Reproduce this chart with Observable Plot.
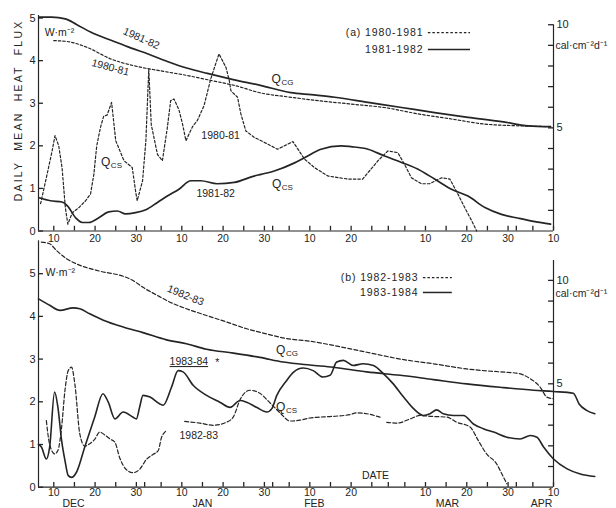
<!DOCTYPE html>
<html><head><meta charset="utf-8">
<script src="https://cdn.jsdelivr.net/npm/d3@7"></script>
<script src="https://cdn.jsdelivr.net/npm/@observablehq/plot@0.6"></script>
<style>
body{margin:0;background:#fff;}
#wrap{position:relative;width:616px;height:508px;overflow:hidden;background:#fff;}
#wrap svg{position:absolute;left:0;}
</style></head><body><div id="wrap"></div>
<script>
// ---------- calendar (day index: Dec d = d, Jan d = 31+d, Feb d = 62+d, Mar d = 90+d, Apr d = 121+d)
const months = ["DEC", "JAN", "FEB", "MAR", "APR"];
const monthOffset = [0, 31, 62, 90, 121];
const monthLength = [31, 31, 28, 31, 30];
const tickDaysOfMonth = [1, 5, 10, 15, 20, 25, 30];
const labelDaysOfMonth = [10, 20, 30];
const monthLabelDay = [14.8, 46, 73.1, 105.3, 128.1];
const yTicks = [0, 1, 2, 3, 4, 5];
const calTicks = [1, 2, 3, 4, 5, 6, 7, 8, 9, 10];
const calLabels = [5, 10];

// ---------- (a) 1980-81 / 1981-82
const qcgA8182Day = [6.4, 9.5, 12.8, 15.5, 18.9, 24.6, 28.6, 33, 37.5, 42.4, 47.2, 53.7, 60, 67.4, 72.3, 78, 86.1, 94.2, 102.2, 110.3, 118.4, 124.9, 130.3];
const qcgA8182Val = [5.02, 5.02, 4.98, 4.85, 4.67, 4.45, 4.3, 4.15, 3.98, 3.82, 3.7, 3.55, 3.42, 3.25, 3.2, 3.14, 3.02, 2.9, 2.78, 2.67, 2.57, 2.47, 2.45];

const qcgA8081Day = [10, 13.2, 18.1, 23.8, 29.4, 35.9, 42.4, 48.8, 53.7, 60.2, 66.6, 72.3, 82, 90, 98.2, 106.3, 114.4, 122.5, 130.3];
const qcgA8081Val = [4.47, 4.45, 4.31, 4.04, 3.88, 3.76, 3.65, 3.52, 3.42, 3.24, 3.15, 3.08, 2.98, 2.9, 2.75, 2.63, 2.51, 2.47, 2.45];

const qcsA8081Day = [6.8, 8.4, 9.6, 10.3, 11.2, 12, 12.8, 13.4, 14.5, 16.1, 17.7, 18.9, 19.7, 20.4, 21.3, 22.1, 22.9, 24, 25, 27, 29, 29.8, 30.2, 31.5, 32.3, 33, 33.6, 35.1, 36.3, 37.5, 38.3, 39.1, 40.3, 41.2, 42, 43.6, 44.8, 46.4, 48, 50, 51.7, 52.5, 52.9, 54.5, 55.3, 56.5, 58.5, 60.2, 64.2, 67.9, 70.7, 73.1, 76.4, 81.2, 84.8, 88.5, 90.9, 93.3, 94.9, 96.6, 99, 101, 103.9, 105.9, 107.9, 109.5, 111.2, 112.4];
const qcsA8081Val = [0.64, 1.34, 1.88, 2.24, 2.0, 1.49, 0.55, 0.16, 0.43, 0.55, 0.71, 0.87, 1.33, 2.0, 2.43, 2.7, 2.72, 3.02, 2.12, 1.65, 1.49, 0.94, 0.71, 1.18, 2.12, 3.8, 2.5, 1.8, 1.65, 2.43, 3.06, 3.1, 2.85, 2.5, 2.12, 2.45, 2.6, 2.95, 3.57, 4.16, 3.84, 3.53, 3.29, 3.14, 2.75, 2.35, 2.2, 2.12, 1.92, 2.1, 1.69, 1.49, 1.29, 1.22, 1.22, 1.65, 1.88, 1.84, 1.57, 1.25, 1.11, 1.11, 1.25, 1.22, 0.86, 0.55, 0.24, 0];

const qcsA8182Day = [6.4, 9.2, 12, 13.3, 15.3, 16.9, 18.5, 20.9, 23.3, 25.4, 27.4, 29.8, 32.3, 35.1, 37.5, 40.3, 43.2, 45.6, 49.6, 53.7, 58.5, 60.2, 63.4, 68.3, 70.7, 74.7, 79.6, 82, 86.1, 90.1, 94.2, 98.2, 102.2, 106.3, 110.3, 114.4, 118.4, 122.5, 126.5, 130.3];
const qcsA8182Val = [0.78, 0.71, 0.68, 0.59, 0.31, 0.2, 0.2, 0.31, 0.45, 0.47, 0.4, 0.43, 0.5, 0.67, 0.82, 0.98, 1.18, 1.18, 1.11, 1.14, 1.29, 1.33, 1.41, 1.6, 1.72, 1.92, 2.0, 1.98, 1.92, 1.76, 1.61, 1.45, 1.22, 0.98, 0.82, 0.55, 0.39, 0.3, 0.22, 0.16];

// ---------- (b) 1982-83 / 1983-84
const qcgB8283Day = [7.0, 9, 10.7, 13.1, 15.5, 21.1, 26.8, 29.2, 31.6, 34.9, 38.9, 42.1, 47, 51.8, 56.7, 61.5, 66.4, 72, 77.7, 85.8, 93.9, 101.9, 110, 118.1, 122.1, 125.4, 127.8, 129.4, 131];
const qcgB8283Val = [5.74, 5.7, 5.54, 5.35, 5.23, 5.06, 4.94, 4.84, 4.68, 4.5, 4.3, 4.18, 4.02, 3.87, 3.71, 3.59, 3.48, 3.42, 3.32, 3.16, 3.0, 2.89, 2.77, 2.7, 2.67, 2.54, 2.34, 2.11, 2.07];

const qcgB8384Day = [6.3, 9, 11.5, 14.7, 16.3, 18.7, 22, 26.8, 31.6, 37.3, 42.1, 47, 53.5, 59.9, 65.6, 72, 77.7, 85.8, 93.9, 101.9, 110, 118.1, 126.2, 131, 135.8, 137.2, 139, 141];
const qcgB8384Val = [4.41, 4.26, 4.14, 4.2, 4.18, 4.06, 3.91, 3.75, 3.62, 3.45, 3.36, 3.23, 3.14, 3.04, 2.93, 2.86, 2.81, 2.7, 2.62, 2.52, 2.42, 2.34, 2.27, 2.24, 2.2, 1.95, 1.8, 1.72];

const qcsB8384Day = [6.3, 7.0, 8.2, 9.0, 10.2, 11.0, 11.9, 12.7, 13.5, 14.3, 15.5, 17.5, 19.9, 21.9, 23.2, 24.8, 26.8, 29.2, 30.0, 30.8, 31.6, 33.3, 35.7, 36.5, 38.5, 40.1, 41.3, 43.8, 47, 50.2, 52.7, 55.1, 56.7, 59.1, 61.6, 62.8, 64, 66.4, 68, 70.4, 72.8, 75.2, 76.9, 78.5, 80.1, 82.5, 84.9, 87.4, 89.8, 92.2, 94.7, 97.1, 99.5, 101.1, 102.7, 104.3, 106.8, 109.2, 111.6, 114, 116.5, 119.7, 122.9, 125.4, 127, 128.6, 131, 134.3, 137.5, 141];
const qcsB8384Val = [1.0, 0.94, 0.66, 0.94, 2.23, 1.87, 1.09, 0.63, 0.27, 0.23, 0.35, 0.94, 1.64, 2.19, 1.99, 1.6, 1.76, 1.64, 1.6, 1.88, 2.15, 2.11, 1.95, 1.92, 2.34, 2.73, 2.7, 2.38, 2.15, 1.99, 1.87, 2.03, 1.99, 1.87, 1.76, 1.84, 2.15, 2.5, 2.69, 2.79, 2.73, 2.58, 2.62, 2.93, 2.97, 2.85, 2.89, 2.85, 2.66, 2.42, 2.11, 1.84, 1.68, 1.72, 1.81, 1.72, 1.68, 1.68, 1.48, 1.37, 1.29, 1.17, 1.13, 1.21, 1.17, 0.94, 0.66, 0.43, 0.31, 0.25];

// null = break in the record
const qcsB8283Day = [8.2, 9.0, 10.2, 11.0, 11.9, 12.7, 13.5, 14.3, 15.1, 16.3, 17.5, 18.7, 19.9, 21.1, 22.4, 23.6, 24.8, 26, 27.6, 29.2, 30.8, 32.5, 34.1, 35.3, 36.1, 36.9, 37.3, null, 41.7, 45.4, 48.6, 51.8, 53.5, 55.1, 57.5, 59.9, 62.3, 64.8, 67.2, 69.6, 72, 77.7, 81.7, 83.3, 85.8, 89, null, 90.6, 93.1, 96.3, 98.7, 101.1, 105.2, 107.6, 110.8, 112.8, 114.8, 117.2, 118.5, 119.7];
const qcsB8283Val = [1.56, 1.0, 0.78, 0.86, 1.41, 2.26, 2.73, 2.81, 2.42, 1.25, 0.96, 1.02, 1.12, 1.29, 1.22, 1.13, 1.05, 0.68, 0.41, 0.34, 0.42, 0.66, 0.77, 0.86, 1.17, 1.29, 1.33, null, 1.54, 1.5, 1.45, 1.52, 1.65, 2.05, 2.27, 2.2, 1.98, 1.74, 1.55, 1.57, 1.62, 1.66, 1.7, 1.74, 1.72, 1.64, null, 1.52, 1.5, 1.6, 1.68, 1.66, 1.64, 1.52, 1.41, 1.09, 0.78, 0.55, 0.31, 0.08];

// ---------- annotations (data coordinates)
const topStartLabels = [{t: "W·m⁻²", day: 7.3, v: 4.66}, {t: "cal·cm⁻²d⁻¹", day: 131, v: 4.35}];
const topMidLabels = [{t: "1981-82", day: 31.2, v: 4.52, r: 24}, {t: "1980-81", day: 23.7, v: 3.84, r: 15}, {t: "1980-81", day: 50.4, v: 2.24, r: 0}, {t: "1981-82", day: 49.2, v: 0.88, r: 0}];
const topLegend = [{t: "(a) 1980-1981", day: 99.5, x1: 100.7, x2: 110.9, v: 4.66, dash: true}, {t: "1981-1982", day: 99.5, x1: 100.7, x2: 110.9, v: 4.26, dash: false}];
const topQ = [{sub: "CG", day: 65.0, v: 3.56}, {sub: "CS", day: 23.7, v: 1.62}, {sub: "CS", day: 65.1, v: 1.1}];
const yTitle = [{t: "DAILY  MEAN  HEAT  FLUX", day: 1.5, v: 2.83}];

const botStartLabels = [{t: "W·m⁻²", day: 7.5, v: 5.02}, {t: "cal·cm⁻²d⁻¹", day: 131, v: 4.53}];
const botMidLabels = [{t: "1982-83", day: 41.9, v: 4.49, r: 22}, {t: "1983-84", day: 42.7, v: 2.94, r: 0}, {t: "*", day: 49.6, v: 2.92, r: 0}, {t: "1982-83", day: 45.1, v: 1.21, r: 0}, {t: "DATE", day: 87.9, v: 0.27, r: 0}];
const botLegend = [{t: "(b) 1982-1983", day: 98.3, x1: 99.5, x2: 106.5, v: 4.91, dash: true}, {t: "1983-1984", day: 98.3, x1: 99.5, x2: 106.5, v: 4.56, dash: false}];
const botQ = [{sub: "CG", day: 66.1, v: 3.22}, {sub: "CS", day: 66.1, v: 1.87}];

// ---------- constants
const CAL = 0.4843;             // 1 cal cm-2 d-1 in W m-2
const DAY0 = 6.3, DAY1 = 131;
const TICK_DAYS = 1.2;          // tick length along x, in days (~5 px)
const TICK_W = 0.11;            // tick length along y, in W m-2 (~5 px)
const INK = "#242424";
const FONT = "'Liberation Sans', Arial, sans-serif";

const series = (days, vals) => days.map((d, i) => ({day: d, v: vals[i]}));
const tickDays = [];
months.forEach((m, k) => tickDaysOfMonth.forEach(d => {
  const x = monthOffset[k] + d;
  if (d <= monthLength[k] && x >= DAY0 && x <= DAY1) tickDays.push(x);
}));
const labelMap = new Map();
months.forEach((m, k) => labelDaysOfMonth.forEach(d => {
  const x = monthOffset[k] + d;
  if (d <= monthLength[k] && x >= DAY0 && x <= DAY1) labelMap.set(x, String(d));
}));
const labelDays = [...labelMap.keys()];
const calW = calTicks.map(c => c * CAL);
const calFormat = d => { const c = Math.round(d / CAL); return calLabels.includes(c) ? String(c) : ""; };

function axes(rightTop, xPad) {
  return [
    Plot.ruleY([0], {stroke: INK, strokeWidth: 1.2}),
    Plot.ruleX([DAY0], {stroke: INK, strokeWidth: 1.2}),
    Plot.ruleX([DAY1], {y1: 0, y2: rightTop, stroke: INK, strokeWidth: 1.2}),
    // inward tick marks
    Plot.ruleY(yTicks.map(v => ({v})), {y: "v", x1: () => DAY0, x2: () => DAY0 + TICK_DAYS, stroke: INK, strokeWidth: 1.3}),
    Plot.ruleY(calW.map(v => ({v})), {y: "v", x1: () => DAY1 - TICK_DAYS, x2: () => DAY1, stroke: INK, strokeWidth: 1.3}),
    Plot.ruleX(tickDays.map(day => ({day})), {x: "day", y1: () => 0, y2: () => TICK_W, stroke: INK, strokeWidth: 1.3}),
    // tick labels
    Plot.axisY({anchor: "left", ticks: yTicks, tickSize: 0, tickPadding: 3, tickFormat: d => String(d), label: null, fontSize: 11}),
    Plot.axisY({anchor: "right", ticks: calW, tickSize: 0, tickPadding: 3, tickFormat: calFormat, label: null, fontSize: 11}),
    Plot.axisX({anchor: "bottom", ticks: labelDays, tickSize: 0, tickPadding: xPad, tickFormat: d => labelMap.get(d), label: null, fontSize: 10.5})
  ];
}

function qLabels(arr) {
  return [
    Plot.text(arr, {x: "day", y: "v", text: () => "Q", textAnchor: "end", fontSize: 12, fill: INK}),
    Plot.text(arr, {x: "day", y: "v", text: "sub", textAnchor: "start", fontSize: 8, dy: 3.5, dx: 0.5, fill: INK})
  ];
}

function legend(arr) {
  return [
    Plot.text(arr, {x: "day", y: "v", text: "t", textAnchor: "end", fontSize: 10.5, fill: INK}),
    Plot.ruleY(arr.filter(d => d.dash), {y: "v", x1: "x1", x2: "x2", stroke: INK, strokeWidth: 1.2, strokeDasharray: "2.5,2"}),
    Plot.ruleY(arr.filter(d => !d.dash), {y: "v", x1: "x1", x2: "x2", stroke: INK, strokeWidth: 1.5})
  ];
}

const baseStyle = {background: "transparent", fontFamily: FONT, fontSize: "10px", color: INK};

// ---------- panel (a)
const panelA = Plot.plot({
  width: 616, height: 250, marginLeft: 38, marginRight: 63, marginTop: 15, marginBottom: 19.5,
  x: {domain: [DAY0, DAY1], label: null},
  y: {domain: [0, 5.06], label: null},
  style: baseStyle,
  marks: [
    ...axes(10 * CAL, 3.5),
    Plot.line(series(qcgA8182Day, qcgA8182Val), {x: "day", y: "v", stroke: INK, strokeWidth: 1.7, curve: "monotone-x"}),
    Plot.line(series(qcgA8081Day, qcgA8081Val), {x: "day", y: "v", stroke: INK, strokeWidth: 1.2, strokeDasharray: "2.5,2", curve: "monotone-x"}),
    Plot.line(series(qcsA8081Day, qcsA8081Val), {x: "day", y: "v", stroke: INK, strokeWidth: 1.2, strokeDasharray: "2.5,2", curve: "linear"}),
    Plot.line(series(qcsA8182Day, qcsA8182Val), {x: "day", y: "v", stroke: INK, strokeWidth: 1.7, curve: "monotone-x"}),
    Plot.text(topStartLabels, {x: "day", y: "v", text: "t", textAnchor: "start", fontSize: 10.5, dx: 2, fill: INK}),
    Plot.text(topMidLabels, {x: "day", y: "v", text: "t", rotate: "r", fontSize: 10.5, fill: INK}),
    Plot.text(yTitle, {x: "day", y: "v", text: "t", rotate: -90, fontSize: 10.5, fill: INK}),
    ...qLabels(topQ),
    ...legend(topLegend)
  ]
});
panelA.style.top = "0px";

// ---------- panel (b)
const panelB = Plot.plot({
  width: 616, height: 270, marginLeft: 38, marginRight: 63, marginTop: 2.3, marginBottom: 21.3,
  x: {domain: [DAY0, DAY1], label: null},
  y: {domain: [0, 5.77], label: null},
  style: baseStyle,
  marks: [
    ...axes(5.31, 1.7),
    Plot.line(series(qcgB8283Day, qcgB8283Val), {x: "day", y: "v", stroke: INK, strokeWidth: 1.2, strokeDasharray: "4,2.2", curve: "monotone-x"}),
    Plot.line(series(qcgB8384Day, qcgB8384Val), {x: "day", y: "v", stroke: INK, strokeWidth: 1.6, curve: "monotone-x"}),
    Plot.line(series(qcsB8283Day, qcsB8283Val), {x: "day", y: "v", stroke: INK, strokeWidth: 1.2, strokeDasharray: "4,2.2", curve: "monotone-x"}),
    Plot.line(series(qcsB8384Day, qcsB8384Val), {x: "day", y: "v", stroke: INK, strokeWidth: 1.6, curve: "monotone-x"}),
    Plot.text(botStartLabels, {x: "day", y: "v", text: "t", textAnchor: "start", fontSize: 10.5, dx: 2, fill: INK}),
    Plot.text(botMidLabels, {x: "day", y: "v", text: "t", rotate: "r", fontSize: 10.5, fill: INK}),
    Plot.text(months.map((m, k) => ({t: m, day: monthLabelDay[k], v: 0})), {x: "day", y: "v", text: "t", dy: 16.5, fontSize: 10.5, fill: INK}),
    ...qLabels(botQ),
    ...legend(botLegend)
  ]
});
panelB.style.top = "238px";

const wrap = document.getElementById("wrap");
wrap.appendChild(panelA);
wrap.appendChild(panelB);

// text styling that Plot has no option for
d3.select(panelA).selectAll("text").filter(function () { return this.textContent.startsWith("DAILY"); }).attr("letter-spacing", 2.2);
d3.select(panelB).selectAll("text").filter(function () { return this.textContent === "1983-84"; }).attr("text-decoration", "underline");
d3.selectAll("#wrap text").filter(function () { return /19\d\d-19\d\d/.test(this.textContent); }).attr("letter-spacing", 0.9);
</script>
</body></html>
